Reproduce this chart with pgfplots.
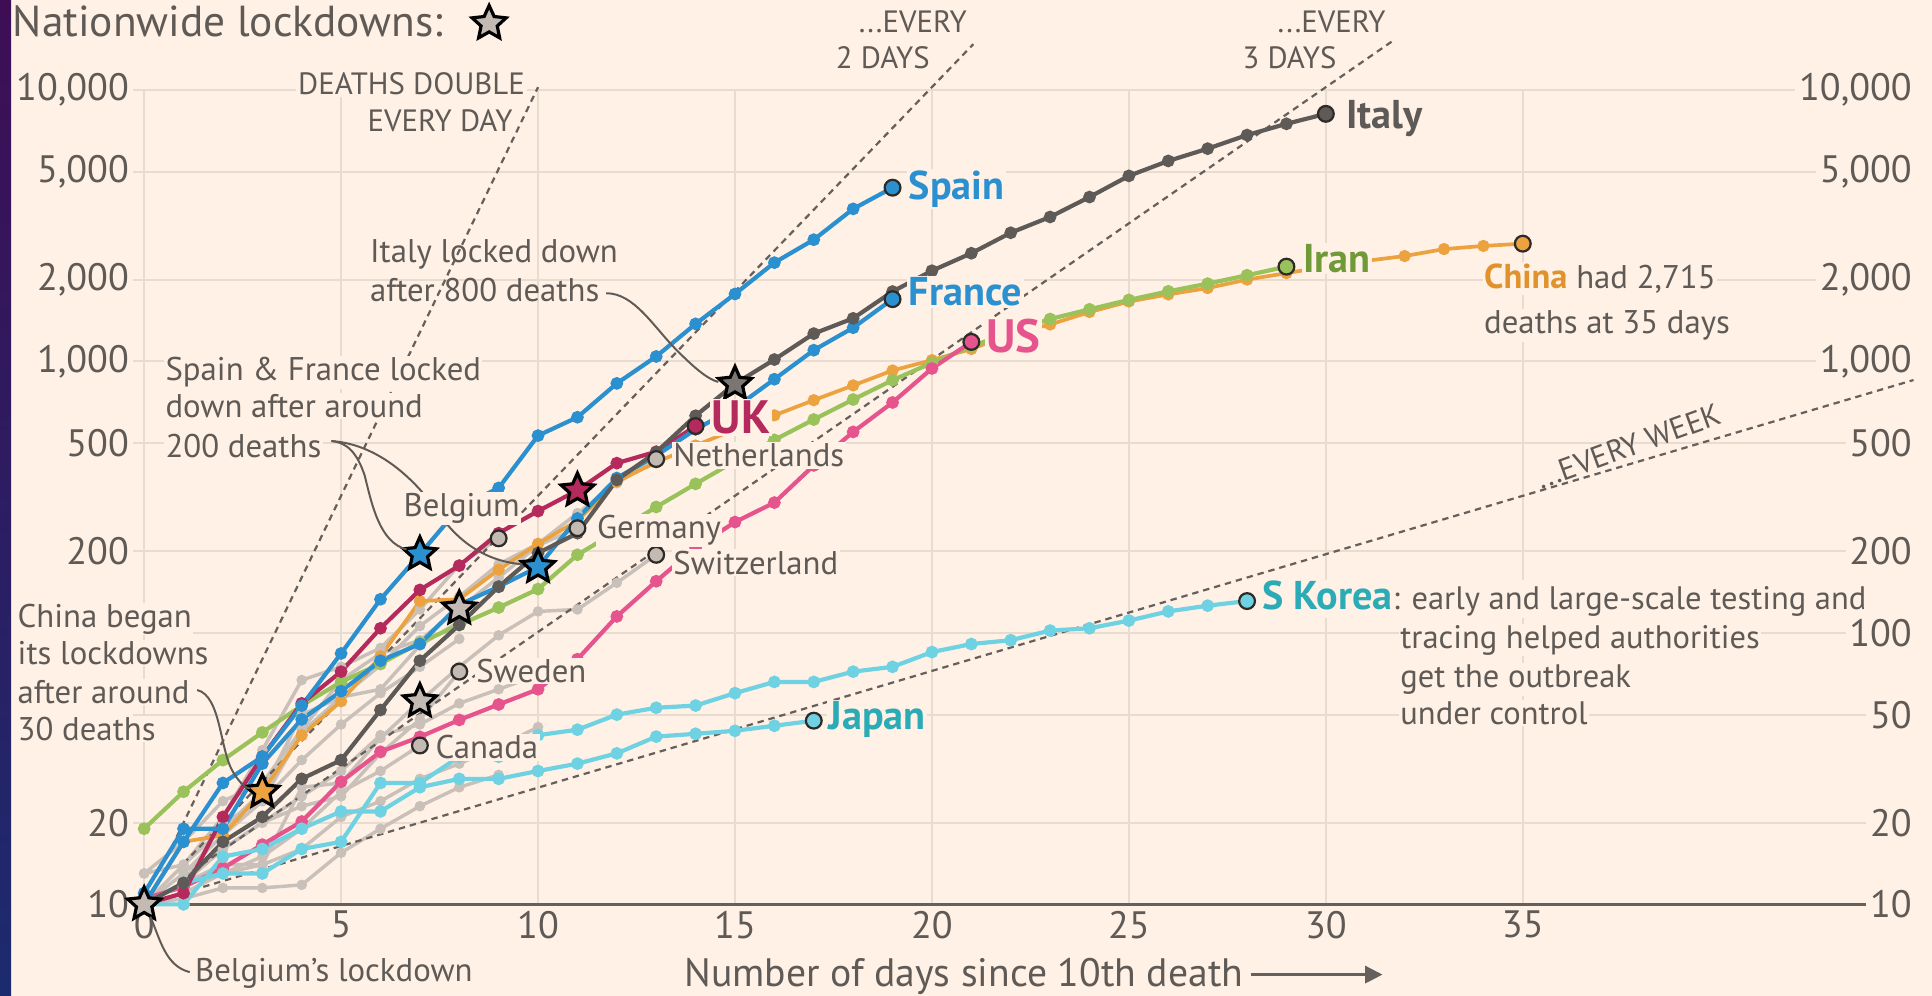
\documentclass[border=0pt]{standalone}
\usepackage{fontspec}
\setmainfont{PT Sans}
\usepackage{pgfplots}
\pgfplotsset{compat=1.18}
\usetikzlibrary{shapes.geometric,arrows.meta}
\definecolor{bg}{HTML}{FFF1E5}
\definecolor{gridc}{HTML}{E8DCD1}
\definecolor{axisc}{HTML}{66605C}
\definecolor{textc}{HTML}{5F5A56}
\definecolor{refc}{HTML}{66605C}
\definecolor{blueS}{HTML}{2B90D0}
\definecolor{italyc}{HTML}{5E5A57}
\definecolor{ukc}{HTML}{B42A5C}
\definecolor{usc}{HTML}{E6548D}
\definecolor{iranc}{HTML}{99C25B}
\definecolor{iranl}{HTML}{6F9A37}
\definecolor{chinac}{HTML}{EBA23F}
\definecolor{chinal}{HTML}{E0932C}
\definecolor{cyanc}{HTML}{6FD2E2}
\definecolor{cyanl}{HTML}{2AABB5}
\definecolor{grayl}{HTML}{C8C0B9}
\definecolor{grayc}{HTML}{C2BAB3}
\definecolor{outl}{HTML}{2E2A28}
\definecolor{stripT}{HTML}{3E0E55}
\definecolor{stripB}{HTML}{1C2B6E}
\definecolor{stardark}{HTML}{7A7673}
\newcommand\fTick{\fontsize{15.5bp}{18bp}\selectfont}
\newcommand\fXlab{\fontsize{16.1bp}{18bp}\selectfont}
\newcommand\fAnn{\fontsize{13.3bp}{16bp}\selectfont}
\newcommand\fCap{\fontsize{12.5bp}{14bp}\selectfont}
\newcommand\fLab{\fontsize{16.3bp}{18bp}\selectfont\bfseries}
\newcommand\fLabB{\fontsize{19bp}{21bp}\selectfont\bfseries}
\newcommand\fLabS{\fontsize{14bp}{16bp}\selectfont\bfseries}
\newcommand\fTitle{\fontsize{17.6bp}{21bp}\selectfont}
\newcommand\fNote{\fontsize{13.2bp}{15bp}\selectfont}
\pgfdeclareplotmark{fstar}{%
  \pgfpathmoveto{\pgfpointpolar{90}{\pgfplotmarksize}}%
  \pgfpathlineto{\pgfpointpolar{126}{0.47\pgfplotmarksize}}%
  \pgfpathlineto{\pgfpointpolar{162}{\pgfplotmarksize}}%
  \pgfpathlineto{\pgfpointpolar{198}{0.47\pgfplotmarksize}}%
  \pgfpathlineto{\pgfpointpolar{234}{\pgfplotmarksize}}%
  \pgfpathlineto{\pgfpointpolar{270}{0.47\pgfplotmarksize}}%
  \pgfpathlineto{\pgfpointpolar{306}{\pgfplotmarksize}}%
  \pgfpathlineto{\pgfpointpolar{342}{0.47\pgfplotmarksize}}%
  \pgfpathlineto{\pgfpointpolar{18}{\pgfplotmarksize}}%
  \pgfpathlineto{\pgfpointpolar{54}{0.47\pgfplotmarksize}}%
  \pgfpathclose\pgfusepathqfillstroke}
\pgfplotsset{
  ln/.style={draw=#1, line width=1.7bp, mark=*, mark size=1.7bp, mark options={draw=none, fill=#1}},
  gl/.style={draw=grayl, line width=1.4bp, mark=*, mark size=1.4bp, mark options={draw=none, fill=grayl}},
  endc/.style={only marks, mark=*, mark size=3.2bp, mark options={fill=#1, draw=outl, line width=0.9bp}},
  stm/.style={only marks, mark=fstar, mark size=7bp, mark options={fill=#1, draw=black, line width=1.3bp}},
  refl/.style={draw=refc, dash pattern=on 2.6bp off 2bp, line width=0.9bp, no marks},
}
\begin{document}
\begin{tikzpicture}
\fill[bg] (0,0) rectangle (784bp,404bp);
\shade[top color=stripT, bottom color=stripB] (0,0) rectangle (4.5bp,404bp);
\begin{axis}[at={(54bp,37bp)}, anchor=south west, scale only axis,
  width=722.5bp, height=330.5bp,
  xmin=-0.2815, xmax=44.92, ymode=log, ymin=10, ymax=10000, clip=false,
  axis line style={draw=none}, major tick length=0pt,
  grid=major, major grid style={draw=gridc, line width=0.75bp},
  xtick={0,5,10,15,20,25,30,35}, xticklabels={0,5,10,15,20,25,30,35},
  ytick={10,20,50,100,200,500,1000,2000,5000,10000},
  yticklabels={10,20,{},{},200,500,{1,000},{2,000},{5,000},{10,000}},
  tick label style={font=\fTick, text=textc},
  yticklabel style={anchor=east, inner sep=0pt, xshift=-1.5bp},
  xticklabel style={anchor=north, inner sep=0pt, yshift=-2.5bp},
  extra y ticks={10}, extra y tick labels={},
  extra y tick style={grid=major, major grid style={draw=axisc, line width=1.25bp}},
]
% unlabelled grey countries
\addplot[gl] coordinates {(0,10)(1,10.5)(2,11.5)(3,11.5)(4,11.8)(5,15.5)(6,19)(7,23)(8,27)(9,30)};
\addplot[gl] coordinates {(0,10)(1,12)(2,14)(3,14)(4,16)(5,21)(6,24)(7,29)(8,33)(9,38)(10,45)};
\addplot[gl] coordinates {(0,10)(1,13)(2,18)(3,24)(4,34)(5,46)(6,60)(7,75)(8,95)};
\addplot[gl] coordinates {(0,10)(1,12)(2,16)(3,20)(4,25)(5,31)(6,42)(7,46)(8,55)(9,62)(10,70)};
\addplot[gl] coordinates {(0,13)(1,14)(2,19)(3,26)(4,50)(5,58)(6,62)(7,90)(8,110)};
% labelled grey countries
\addplot[gl] coordinates {(0,10)(1,12)(2,20)(3,24)(4,43)(5,58)(6,76)(7,106)(8,136)(9,179)(10,213)(11,276)(12,356)(13,437)};
\addplot[gl] coordinates {(0,10)(1,14)(2,21)(3,37)(4,67)(5,75)(6,88)(7,122)(8,178)(9,223)};
\addplot[gl] coordinates {(0,13)(1,17)(2,24)(3,28)(4,44)(5,67)(6,84)(7,94)(8,123)(9,160)(10,210)(11,243)};
\addplot[gl] coordinates {(0,10)(1,11)(2,13)(3,14)(4,27)(5,28)(6,41)(7,56)(8,75)(9,98)(10,120)(11,122)(12,153)(13,194)};
\addplot[gl] coordinates {(0,10)(1,12)(2,16)(3,20)(4,23)(5,25)(6,36)(7,48)(8,72)};
\addplot[gl] coordinates {(0,10)(1,12)(2,13)(3,15)(4,19)(5,26)(6,31)(7,38.5)};
% reference lines
\addplot[refl] coordinates {(0.7,16.245)(10,10240)};
\addplot[refl] coordinates {(1,14.142)(21.05,14740)};
\addplot[refl] coordinates {(1,12.599)(31.69,15130)};
\addplot[refl] coordinates {(1.5,11.603)(44.92,854)};
% coloured countries
\addplot[ln=chinac, line width=1.5bp] coordinates {(0,10)(1,17)(2,18)(3,26)(4,42)(5,56)(6,82)(7,131)(8,133)(9,171)(10,213)(11,259)(12,361)(13,425)(14,490)(15,562)(16,633)(17,720)(18,816)(19,926)(20,1011)(21,1111)(22,1260)(23,1368)(24,1520)(25,1662)(26,1765)(27,1863)(28,2002)(29,2114)(30,2236)(31,2345)(32,2444)(33,2593)(34,2663)(35,2715)};
\addplot[ln=iranc] coordinates {(0,19)(1,26)(2,34)(3,43)(4,54)(5,66)(6,77)(7,92)(8,107)(9,124)(10,145)(11,194)(12,237)(13,291)(14,354)(15,429)(16,514)(17,611)(18,724)(19,853)(20,988)(21,1135)(22,1284)(23,1433)(24,1556)(25,1685)(26,1812)(27,1934)(28,2077)(29,2234)};
\addplot[ln=usc] coordinates {(0,10.5)(1,11.6)(2,13.6)(3,16.6)(4,20.2)(5,28.3)(6,36.5)(7,41.4)(8,47.8)(9,54.5)(10,62)(11,80)(12,115)(13,155)(14,206)(15,256)(16,302)(17,414)(18,550)(19,706)(20,942)(21,1180)};
\addplot[ln=cyanc] coordinates {(0,10)(1,10)(2,15)(3,16)(4,19)(5,22)(6,22)(7,27)(8,29)(9,29)(10,31)(11,33)(12,36)(13,41.5)(14,42.5)(15,43.6)(16,45.5)(17,47.5)};
\addplot[ln=cyanc] coordinates {(0,10)(1,12)(2,13)(3,13)(4,16)(5,17)(6,28)(7,28)(8,35)(9,35)(10,42)(11,44)(12,50)(13,53)(14,54)(15,60)(16,66)(17,66)(18,72)(19,75)(20,85)(21,91)(22,94)(23,102)(24,104)(25,111)(26,120)(27,126)(28,131)};
\addplot[ln=ukc] coordinates {(0,10)(1,11)(2,21)(3,35)(4,55)(5,72)(6,104)(7,144)(8,177)(9,233)(10,281)(11,335)(12,422)(13,465)(14,578)};
\addplot[ln=blueS] coordinates {(0,11)(1,19)(2,19)(3,33)(4,48)(5,61)(6,79)(7,91)(8,127)(9,148)(10,175)(11,264)(12,372)(13,450)(14,562)(15,674)(16,860)(17,1100)(18,1331)(19,1696)};
\addplot[ln=blueS] coordinates {(0,10)(1,17)(2,28)(3,35)(4,54)(5,84)(6,133)(7,195)(8,289)(9,342)(10,533)(11,623)(12,830)(13,1043)(14,1375)(15,1772)(16,2311)(17,2808)(18,3647)(19,4365)};
\addplot[ln=italyc] coordinates {(0,10)(1,12)(2,17)(3,21)(4,29)(5,34)(6,52)(7,79)(8,107)(9,148)(10,197)(11,233)(12,366)(13,463)(14,631)(15,827)(16,1016)(17,1266)(18,1441)(19,1809)(20,2158)(21,2503)(22,2978)(23,3405)(24,4032)(25,4825)(26,5476)(27,6077)(28,6820)(29,7503)(30,8165)};
% end circles
\addplot[endc=grayc] coordinates {(13,437)(9,223)(11,243)(13,194)(8,72)(7,38.5)};
\addplot[endc=chinac] coordinates {(35,2715)};
\addplot[endc=iranc] coordinates {(29,2234)};
\addplot[endc=usc] coordinates {(21,1180)};
\addplot[endc=cyanc] coordinates {(17,47.5)(28,131)};
\addplot[endc=ukc] coordinates {(14,578)};
\addplot[endc=blueS] coordinates {(19,1696)(19,4365)};
\addplot[endc=italyc] coordinates {(30,8165)};
% lockdown stars
\addplot[stm=grayc] coordinates {(0,10)(8,123)(7,56)};
\addplot[stm=chinac] coordinates {(3,26)};
\addplot[stm=blueS] coordinates {(7,195)(10,175)};
\addplot[stm=ukc] coordinates {(11,335)};
\addplot[stm=stardark] coordinates {(15,827)};
\end{axis}
\begin{axis}[at={(54bp,37bp)}, anchor=south west, scale only axis,
  width=722.5bp, height=330.5bp,
  xmin=-0.2815, xmax=44.92, ymode=log, ymin=10, ymax=10000,
  hide x axis, axis line style={draw=none}, major tick length=0pt,
  ytick={10,20,50,100,200,500,1000,2000,5000,10000},
  yticklabels={10,20,50,100,200,500,{1,000},{2,000},{5,000},{10,000}},
  yticklabel pos=right,
  yticklabel style={font=\fTick, text=textc, anchor=east, fill=bg, inner xsep=1.5bp, inner ysep=0.5bp, xshift=1bp},
]
\end{axis}
\begin{scope}[x=0.5bp, y=-0.5bp, shift={(0bp,404bp)}]
\node[anchor=base west, inner sep=0, text=textc, font=\fTitle] at (10,30) {Nationwide lockdowns:};
\node[star, star points=5, star point ratio=2.1, draw=black, fill=grayc, line width=1.3bp, minimum size=14.5bp, inner sep=0pt] at (397,19) {};
% reference line captions
\node[anchor=base east, inner sep=0.8bp, fill=bg, text=textc, font=\fCap] at (428,77) {DEATHS DOUBLE};
\node[anchor=base east, inner sep=0.8bp, fill=bg, text=textc, font=\fCap] at (418,107) {EVERY DAY};
\node[anchor=base east, inner sep=0.5bp, text=textc, font=\fCap] at (786,26) {...EVERY};
\node[anchor=base east, inner sep=0.5bp, text=textc, font=\fCap] at (756,56) {2 DAYS};
\node[anchor=base east, inner sep=0.5bp, text=textc, font=\fCap] at (1126,26) {...EVERY};
\node[anchor=base east, inner sep=0.5bp, text=textc, font=\fCap] at (1086,56) {3 DAYS};
\node[rotate=20, inner sep=0.5bp, text=textc, font=\fCap] at (1322,362) {...EVERY WEEK};
% annotations
\node[anchor=base west, inner sep=0, text=textc, font=\fAnn] at (300,213) {Italy locked down};
\node[anchor=base west, inner sep=0, text=textc, font=\fAnn] at (300,245) {after 800 deaths};
\node[anchor=base west, inner sep=0.5bp, fill=bg, text=textc, font=\fAnn] at (133,309) {Spain \& France locked};
\node[anchor=base west, inner sep=0.5bp, fill=bg, text=textc, font=\fAnn] at (133,339) {down after around};
\node[anchor=base west, inner sep=0.5bp, fill=bg, text=textc, font=\fAnn] at (133,371) {200 deaths};
\node[anchor=base west, inner sep=0.5bp, fill=bg, text=textc, font=\fAnn] at (13,509) {China began};
\node[anchor=base west, inner sep=0.5bp, fill=bg, text=textc, font=\fAnn] at (13,539) {its lockdowns};
\node[anchor=base west, inner sep=0.5bp, fill=bg, text=textc, font=\fAnn] at (13,571) {after around};
\node[anchor=base west, inner sep=0.5bp, fill=bg, text=textc, font=\fAnn] at (13,601) {30 deaths};
\node[anchor=base west, inner sep=0, text=textc, font=\fAnn] at (158,797) {Belgium’s lockdown};
\node[anchor=base west, inner sep=0, text=textc, font=\fXlab] at (555,801) {Number of days since 10th death};
\draw[-{Triangle[length=7bp,width=7bp]}, line width=0.9bp, axisc] (1015,791) -- (1122,791);
% connectors
\draw[textc, line width=0.8bp] (492,238) .. controls (515,238) and (530,265) .. (550,285) .. controls (565,300) and (575,308) .. (583,310);
\draw[textc, line width=0.8bp] (269,358) .. controls (282,359) and (290,368) .. (296,386) .. controls (302,410) and (308,440) .. (330,446);
\draw[textc, line width=0.8bp] (269,358) .. controls (300,360) and (330,380) .. (355,415) .. controls (375,445) and (400,456) .. (424,458);
\draw[textc, line width=0.8bp] (160,560) .. controls (180,565) and (178,610) .. (190,628) .. controls (195,636) and (200,640) .. (203,640);
\draw[textc, line width=0.8bp] (122,744) .. controls (130,762) and (134,784) .. (154,789);
% grey country labels
\node[anchor=base west, inner sep=0.6bp, fill=bg, text=textc, font=\fAnn] at (326,419) {Belgium};
\node[anchor=base west, inner sep=0.6bp, fill=bg, text=textc, font=\fAnn] at (483,437) {Germany};
\node[anchor=base west, inner sep=0.6bp, fill=bg, text=textc, font=\fAnn] at (545,466) {Switzerland};
\node[anchor=base west, inner sep=0.6bp, fill=bg, text=textc, font=\fAnn] at (545,379) {Netherlands};
\node[anchor=base west, inner sep=0.6bp, fill=bg, text=textc, font=\fAnn] at (385,554) {Sweden};
\node[anchor=base west, inner sep=0.6bp, fill=bg, text=textc, font=\fAnn] at (352,616) {Canada};
% coloured labels
\node[anchor=base west, inner sep=0.6bp, fill=bg, text=italyc, font=\fLab] at (1091,104) {Italy};
\node[anchor=base west, inner sep=0.6bp, fill=bg, text=blueS, font=\fLab] at (736,162) {Spain};
\node[anchor=base west, inner sep=0.6bp, fill=bg, text=blueS, font=\fLab] at (736,248) {France};
\node[anchor=base west, inner sep=0.6bp, fill=bg, text=ukc, font=\fLabB] at (576,352) {UK};
\node[anchor=base west, inner sep=0.6bp, fill=bg, text=usc, font=\fLabB] at (799,286) {US};
\node[anchor=base west, inner sep=0.6bp, fill=bg, text=iranl, font=\fLab] at (1056,221) {Iran};
\node[anchor=base west, inner sep=0.6bp, fill=bg, text=textc, font=\fAnn] at (1203,234) {{\fLabS\color{chinal}China} had 2,715};
\node[anchor=base west, inner sep=0.6bp, fill=bg, text=textc, font=\fAnn] at (1203,271) {deaths at 35 days};
\node[anchor=base west, inner sep=0.6bp, fill=bg, text=textc, font=\fNote] at (1023,495) {{\fLab\color{cyanl}S Korea}: early and large-scale testing and};
\node[anchor=base west, inner sep=0.6bp, fill=bg, text=textc, font=\fNote] at (1135,526) {tracing helped authorities};
\node[anchor=base west, inner sep=0.6bp, fill=bg, text=textc, font=\fNote] at (1135,558) {get the outbreak};
\node[anchor=base west, inner sep=0.6bp, fill=bg, text=textc, font=\fNote] at (1135,588) {under control};
\node[anchor=base west, inner sep=0.6bp, fill=bg, text=cyanl, font=\fLab] at (671,592) {Japan};
\end{scope}
\pgfresetboundingbox
\path[use as bounding box] (0,0) rectangle (784bp,404bp);
\end{tikzpicture}
\end{document}
